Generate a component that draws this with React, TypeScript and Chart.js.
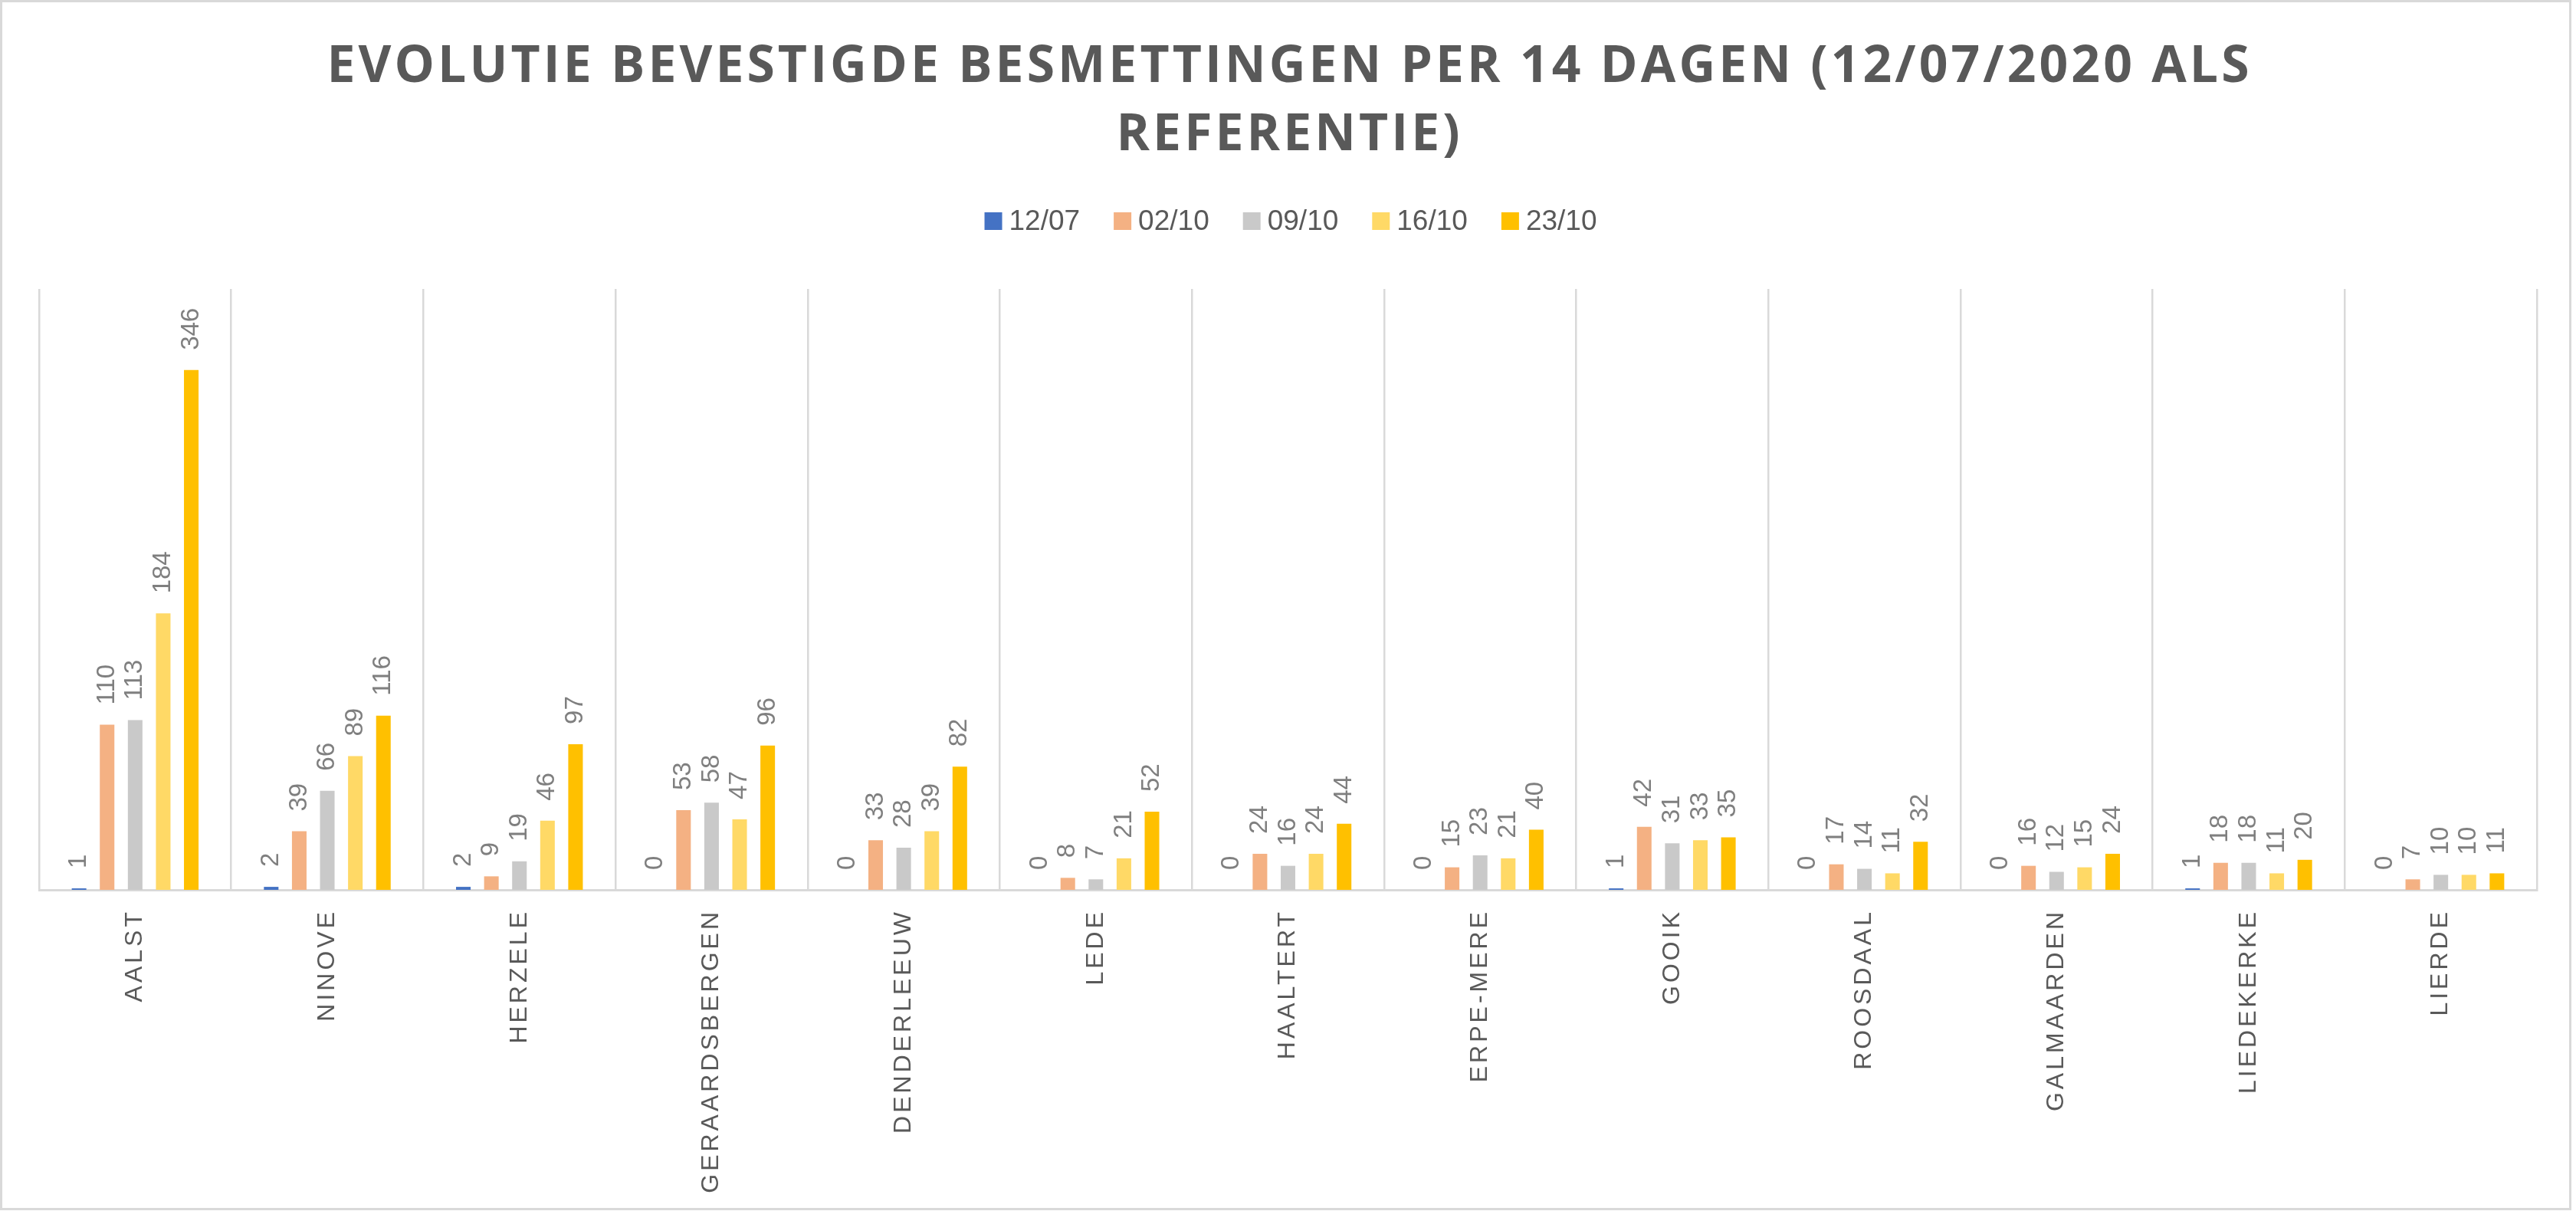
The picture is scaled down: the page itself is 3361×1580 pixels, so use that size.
import React, { useEffect, useRef } from 'react';
import { Chart, registerables } from 'chart.js';

Chart.register(...registerables);

const W = 3361;
const H = 1580;

const TITLE_LINES = ['EVOLUTIE BEVESTIGDE BESMETTINGEN PER 14 DAGEN (12/07/2020 ALS', 'REFERENTIE)'];

const categories = [
  'AALST', 'NINOVE', 'HERZELE', 'GERAARDSBERGEN', 'DENDERLEEUW', 'LEDE', 'HAALTERT',
  'ERPE-MERE', 'GOOIK', 'ROOSDAAL', 'GALMAARDEN', 'LIEDEKERKE', 'LIERDE',
];

const seriesLabels = ['12/07', '02/10', '09/10', '16/10', '23/10'];

const values1207 = [1, 2, 2, 0, 0, 0, 0, 0, 1, 0, 0, 1, 0];
const values0210 = [110, 39, 9, 53, 33, 8, 24, 15, 42, 17, 16, 18, 7];
const values0910 = [113, 66, 19, 58, 28, 7, 16, 23, 31, 14, 12, 18, 10];
const values1610 = [184, 89, 46, 47, 39, 21, 24, 21, 33, 11, 15, 11, 10];
const values2310 = [346, 116, 97, 96, 82, 52, 44, 40, 35, 32, 24, 20, 11];

const seriesValues = [values1207, values0210, values0910, values1610, values2310];
const seriesColors = ['#4472C4', '#F4B183', '#C9C9C9', '#FFD966', '#FFC000'];

const yMin = 0;
const yMax = 400;

const SANS = '"Liberation Sans", Arial, sans-serif';

const decorPlugin = {
  id: 'decor',
  afterDatasetsDraw(chart: any) {
    const ctx: CanvasRenderingContext2D = chart.ctx;
    ctx.save();
    (ctx as any).letterSpacing = '0px';
    ctx.font = `33px ${SANS}`;
    ctx.fillStyle = '#7F7F7F';
    ctx.textAlign = 'left';
    ctx.textBaseline = 'middle';
    chart.data.datasets.forEach((ds: any, di: number) => {
      const meta = chart.getDatasetMeta(di);
      meta.data.forEach((bar: any, i: number) => {
        const v = ds.data[i];
        ctx.save();
        ctx.translate(bar.x, bar.y - 26);
        ctx.rotate(-Math.PI / 2);
        ctx.fillText(String(v), 0, 0);
        ctx.restore();
      });
    });
    ctx.restore();
    // spaced category labels (x ticks are drawn after this hook, z = 1)
    (ctx as any).letterSpacing = '4px';
  },
  afterDraw(chart: any) {
    const ctx: CanvasRenderingContext2D = chart.ctx;
    (ctx as any).letterSpacing = '0px';

    // Title
    ctx.save();
    ctx.font = `700 66px "Open Sans", ${SANS}`;
    ctx.fillStyle = '#595959';
    ctx.textAlign = 'left';
    ctx.textBaseline = 'alphabetic';
    const l1 = TITLE_LINES[0];
    const w1 = ctx.measureText(l1).width;
    const sp = Math.max(0, (2508 - w1) / (l1.length - 1));
    (ctx as any).letterSpacing = `${sp}px`;
    const baselines = [107, 196];
    TITLE_LINES.forEach((line, li) => {
      const w = ctx.measureText(line).width - sp;
      ctx.fillText(line, W / 2 - w / 2, baselines[li]);
    });
    ctx.restore();
    (ctx as any).letterSpacing = '0px';

    // Legend
    ctx.save();
    ctx.font = `37px ${SANS}`;
    ctx.textAlign = 'left';
    ctx.textBaseline = 'alphabetic';
    const box = 23;
    const boxGap = 9;
    const itemGap = 44;
    const widths = chart.data.datasets.map((ds: any) => ctx.measureText(ds.label).width);
    const total = widths.reduce((a: number, b: number) => a + b + box + boxGap, 0) + itemGap * (widths.length - 1);
    let x = 1684 - total / 2;
    chart.data.datasets.forEach((ds: any, di: number) => {
      ctx.fillStyle = ds.backgroundColor;
      ctx.fillRect(x, 277, box, box);
      ctx.fillStyle = '#595959';
      ctx.fillText(ds.label, x + box + boxGap, 300);
      x += box + boxGap + widths[di] + itemGap;
    });
    ctx.restore();

    // Outer frame
    ctx.save();
    ctx.strokeStyle = '#D9D9D9';
    ctx.lineWidth = 3;
    ctx.strokeRect(1.5, 1.5, 3352, 1576);
    ctx.restore();
  },
};

export default function App() {
  const ref = useRef<HTMLCanvasElement | null>(null);

  useEffect(() => {
    document.body.style.margin = '0';
    const canvas = ref.current;
    if (!canvas) return;

    const chart = new Chart(canvas, {
      type: 'bar',
      data: {
        labels: categories,
        datasets: seriesLabels.map((label, i) => ({
          label,
          data: seriesValues[i],
          backgroundColor: seriesColors[i],
          borderWidth: 0,
          barPercentage: 0.52,
          categoryPercentage: 0.73,
        })),
      },
      options: {
        responsive: false,
        maintainAspectRatio: false,
        devicePixelRatio: 1,
        animation: false,
        events: [],
        layout: { padding: { top: 377, left: 51, right: 51, bottom: 0 } },
        plugins: {
          legend: { display: false },
          title: { display: false },
          tooltip: { enabled: false },
        },
        scales: {
          x: {
            grid: { display: true, color: '#D9D9D9', lineWidth: 2.5, drawTicks: false, offset: true },
            border: { display: true, color: '#D9D9D9', width: 3 },
            ticks: {
              autoSkip: false,
              minRotation: 90,
              maxRotation: 90,
              padding: 25,
              color: '#595959',
              font: { family: SANS, size: 32 },
              z: 1,
            },
            afterFit: (scale: any) => {
              scale.height = 419;
            },
          },
          y: { display: false, min: yMin, max: yMax },
        },
      } as any,
      plugins: [decorPlugin],
    });

    let alive = true;
    if ((document as any).fonts && (document as any).fonts.ready) {
      (document as any).fonts.ready.then(() => {
        if (alive) chart.draw();
      });
    }

    return () => {
      alive = false;
      chart.destroy();
    };
  }, []);

  return (
    <div style={{ width: W, height: H, background: '#ffffff' }}>
      <canvas ref={ref} width={W} height={H} style={{ display: 'block', width: W, height: H }} />
    </div>
  );
}
